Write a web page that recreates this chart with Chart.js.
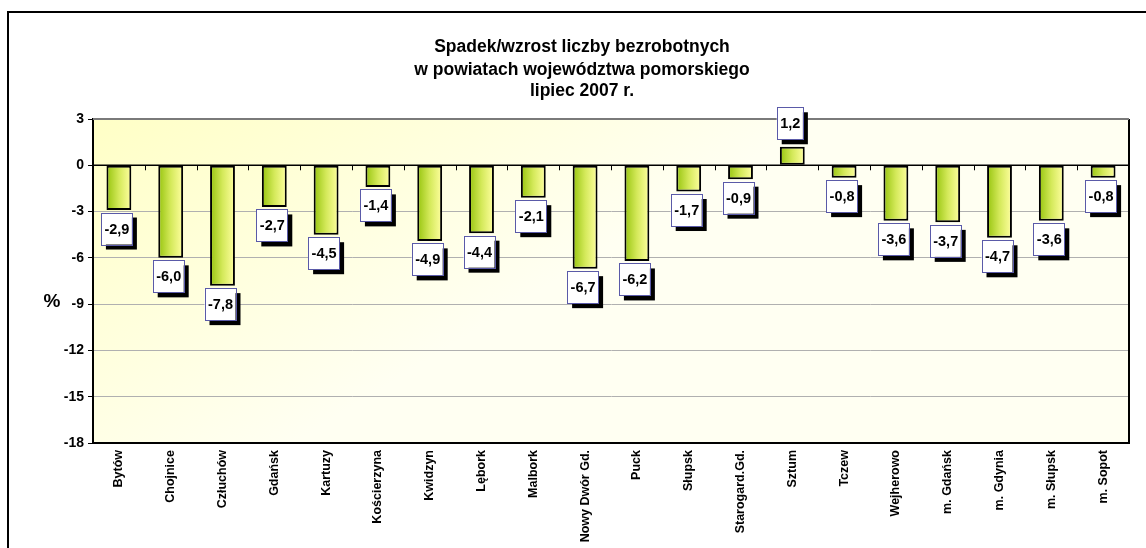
<!DOCTYPE html>
<html>
<head>
<meta charset="utf-8">
<script src="https://cdn.jsdelivr.net/npm/chart.js@4/dist/chart.umd.min.js"></script>
<style>
  body { margin: 0; background: #fff; }
  canvas { display: block; }
</style>
</head>
<body>
<canvas id="chart" width="1146" height="548"></canvas>
<script>
// data
let powiaty = ["Bytów", "Chojnice", "Człuchów", "Gdańsk", "Kartuzy", "Kościerzyna", "Kwidzyn", "Lębork", "Malbork", "Nowy Dwór Gd.",
  "Puck", "Słupsk", "Starogard.Gd.", "Sztum", "Tczew", "Wejherowo", "m. Gdańsk", "m. Gdynia", "m. Słupsk", "m. Sopot"];
let zmiana = [-2.9, -6.0, -7.8, -2.7, -4.5, -1.4, -4.9, -4.4, -2.1, -6.7, -6.2, -1.7, -0.9, 1.2, -0.8, -3.6, -3.7, -4.7, -3.6, -0.8];
let tytul = ["Spadek/wzrost liczby bezrobotnych", "w powiatach województwa pomorskiego", "lipiec 2007 r."];
let yMin = -18, yMax = 3, yStep = 3;

const FONT = "'Liberation Sans', Arial, sans-serif";

// frame, plot background, title and % label
const frame = {
  id: "frame",
  beforeDraw(chart) {
    let ctx = chart.ctx;
    let a = chart.chartArea;
    ctx.save();
    ctx.fillStyle = "#fff";
    ctx.fillRect(0, 0, chart.width, chart.height);

    ctx.strokeStyle = "#000";
    ctx.lineWidth = 2;
    ctx.beginPath();
    ctx.moveTo(8, chart.height + 2);
    ctx.lineTo(8, 12);
    ctx.lineTo(chart.width + 2, 12);
    ctx.stroke();

    let g = ctx.createLinearGradient(a.left, a.top, a.left + 200, a.bottom);
    g.addColorStop(0, "#ffffc6");
    g.addColorStop(1, "#fffff2");
    ctx.fillStyle = g;
    ctx.fillRect(a.left, a.top, a.right - a.left, a.bottom - a.top);

    ctx.fillStyle = "#000";
    ctx.font = "bold 17.5px " + FONT;
    ctx.textAlign = "center";
    ctx.textBaseline = "alphabetic";
    let ys = [52, 74.5, 96];
    tytul.forEach((t, i) => ctx.fillText(t, 582, ys[i]));

    ctx.font = "bold 19px " + FONT;
    ctx.textBaseline = "middle";
    ctx.fillText("%", 52, 302);
    ctx.restore();
  },
  afterDatasetsDraw(chart) {
    let ctx = chart.ctx;
    let a = chart.chartArea;
    let y = chart.scales.y;
    let y0 = y.getPixelForValue(0);
    let step = (a.right - a.left) / powiaty.length;
    ctx.save();
    // zero line with small ticks between categories
    ctx.strokeStyle = "#000";
    ctx.lineWidth = 1.5;
    ctx.beginPath();
    ctx.moveTo(a.left, y0);
    ctx.lineTo(a.right, y0);
    ctx.stroke();
    ctx.lineWidth = 1;
    ctx.beginPath();
    for (let i = 1; i < powiaty.length; i++) {
      let px = Math.round(a.left + i * step) + 0.5;
      ctx.moveTo(px, y0);
      ctx.lineTo(px, y0 + 5);
    }
    ctx.stroke();

    // right border of plot
    ctx.lineWidth = 2;
    ctx.beginPath();
    ctx.moveTo(a.right, a.top);
    ctx.lineTo(a.right, a.bottom);
    ctx.stroke();
    ctx.strokeStyle = "#7a7a7a";
    ctx.beginPath();
    ctx.moveTo(a.left, a.top);
    ctx.lineTo(a.right, a.top);
    ctx.stroke();

    // value boxes
    let meta = chart.getDatasetMeta(0);
    ctx.font = "bold 14.5px " + FONT;
    ctx.textAlign = "center";
    ctx.textBaseline = "middle";
    meta.data.forEach((bar, i) => {
      let v = zmiana[i];
      let txt = v.toFixed(1).replace(".", ",");
      let w = ctx.measureText(txt).width + 6;
      let h = 32, sh = 5;
      let bx = bar.x - w / 2 - sh / 2;
      let by = v < 0 ? bar.y + 2.5 : bar.y - 2.5 - sh - h;
      ctx.fillStyle = "#000";
      ctx.fillRect(bx + sh, by + sh, w, h);
      ctx.fillStyle = "#fff";
      ctx.fillRect(bx, by, w, h);
      ctx.strokeStyle = "#5a5aa8";
      ctx.lineWidth = 1;
      ctx.strokeRect(Math.round(bx) + 0.5, Math.round(by) + 0.5, Math.round(w), h);
      ctx.fillStyle = "#000";
      ctx.fillText(txt, bx + w / 2 + 0.5, by + h / 2 + 1);
    });
    ctx.restore();
  }
};

// horizontal green-to-yellow fill for each bar
function barFill(c) {
  let chart = c.chart;
  let xs = chart.scales.x;
  if (!chart.chartArea || !xs) return "#c8e050";
  let cx = xs.getPixelForValue(c.dataIndex);
  let w = (chart.chartArea.right - chart.chartArea.left) / powiaty.length * 0.48;
  let g = chart.ctx.createLinearGradient(cx - w / 2, 0, cx + w / 2, 0);
  g.addColorStop(0, "#96c40e");
  g.addColorStop(0.5, "#d4e95a");
  g.addColorStop(1, "#ffffa0");
  return g;
}

new Chart(document.getElementById("chart"), {
  type: "bar",
  data: {
    labels: powiaty,
    datasets: [{
      data: zmiana,
      backgroundColor: barFill,
      borderColor: "#000",
      borderWidth: 2,
      borderSkipped: false,
      categoryPercentage: 1,
      barPercentage: 0.48
    }]
  },
  options: {
    responsive: false,
    devicePixelRatio: 1,
    animation: false,
    layout: { padding: { top: 119, right: 17, bottom: 0, left: 0 } },
    plugins: {
      legend: { display: false },
      tooltip: { enabled: false },
      title: { display: false }
    },
    scales: {
      x: {
        grid: { display: false, drawTicks: false },
        border: { display: true, color: "#000", width: 2 },
        ticks: {
          color: "#000",
          font: { family: FONT, size: 12.5, weight: "bold" },
          minRotation: 90,
          maxRotation: 90,
          autoSkip: false,
          padding: 7
        },
        afterFit: s => { s.height = 105; }
      },
      y: {
        min: yMin,
        max: yMax,
        grid: { color: "#b0b0b0", lineWidth: 1, tickColor: "#000", tickLength: 5 },
        border: { display: true, color: "#000", width: 2 },
        ticks: {
          stepSize: yStep,
          color: "#000",
          padding: 4,
          font: { family: FONT, size: 14, weight: "bold" }
        },
        afterFit: s => { s.width = 93; }
      }
    }
  },
  plugins: [frame]
});
</script>
</body>
</html>
